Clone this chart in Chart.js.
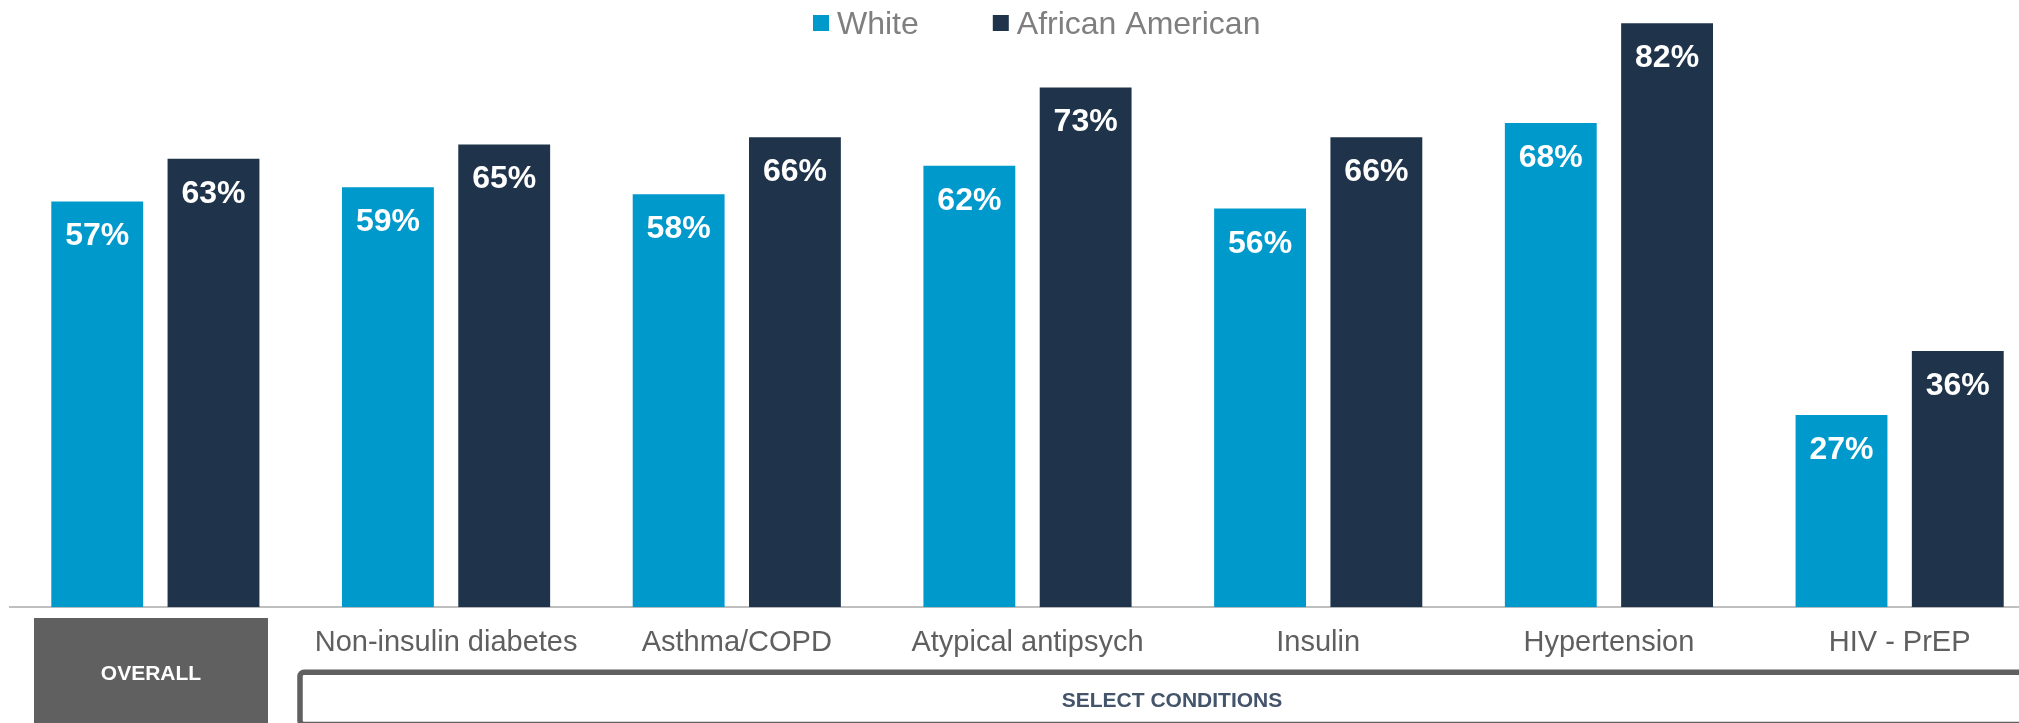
<!DOCTYPE html>
<html>
<head>
<meta charset="utf-8">
<script src="https://cdn.jsdelivr.net/npm/chart.js@4.4.1/dist/chart.umd.min.js"></script>
<style>
  html, body { margin: 0; padding: 0; background: #fff; overflow: hidden; }
  canvas { display: block; }
</style>
</head>
<body>
<canvas id="fillChart" width="2055" height="723"></canvas>
<script>
/// === DATA === ///
const conditions = ['OVERALL', 'Non-insulin diabetes', 'Asthma/COPD', 'Atypical antipsych', 'Insulin', 'Hypertension', 'HIV - PrEP'];
const whiteRates = [57, 59, 58, 62, 56, 68, 27];
const africanAmericanRates = [63, 65, 66, 73, 66, 82, 36];
const groupTitle = 'SELECT CONDITIONS';

const FONT = "'Liberation Sans', Arial, sans-serif";
const BOX_GRAY = '#606060';

// white % labels just inside the top of each bar
const barLabels = {
  id: 'barLabels',
  afterDatasetsDraw(chart) {
    const ctx = chart.ctx;
    ctx.save();
    ctx.font = 'bold 32px ' + FONT;
    ctx.fillStyle = '#ffffff';
    ctx.textAlign = 'center';
    ctx.textBaseline = 'alphabetic';
    chart.data.datasets.forEach((ds, i) => {
      chart.getDatasetMeta(i).data.forEach((bar, j) => {
        ctx.fillText(ds.data[j] + '%', bar.x, bar.y + 44);
      });
    });
    ctx.restore();
  },
};

// legend drawn inside the plot, above the bars
const topLegend = {
  id: 'topLegend',
  afterDraw(chart) {
    const ctx = chart.ctx;
    const ca = chart.chartArea;
    ctx.save();
    ctx.font = '32px ' + FONT;
    ctx.textBaseline = 'alphabetic';
    let x = ca.left + 803;
    chart.data.datasets.forEach((ds) => {
      ctx.fillStyle = ds.backgroundColor;
      ctx.fillRect(x, 15, 16, 16);
      ctx.fillStyle = '#7f7f7f';
      ctx.fillText(ds.label, x + 24, 34);
      x += 24 + ctx.measureText(ds.label).width + 74;
    });
    ctx.restore();
  },
};

// the OVERALL tag and the bracket box under the condition labels
const groupBoxes = {
  id: 'groupBoxes',
  afterDraw(chart) {
    const ctx = chart.ctx;
    const ca = chart.chartArea;
    const h = chart.height;
    ctx.save();

    ctx.fillStyle = BOX_GRAY;
    ctx.fillRect(ca.left + 24, 618, 234, h - 618);
    ctx.fillStyle = '#ffffff';
    ctx.font = 'bold 21px ' + FONT;
    ctx.textAlign = 'center';
    ctx.textBaseline = 'alphabetic';
    ctx.fillText(conditions[0], ca.left + 141, 680);

    ctx.strokeStyle = BOX_GRAY;
    ctx.lineWidth = 5.5;
    ctx.beginPath();
    ctx.roundRect(ca.left + 290, 672.3, 2100, 52.2, 4);
    ctx.stroke();
    ctx.fillStyle = '#44546a';
    ctx.font = 'bold 21px ' + FONT;
    ctx.fillText(groupTitle, ca.left + 1162, 707);

    ctx.restore();
  },
};

new Chart(document.getElementById('fillChart'), {
  type: 'bar',
  data: {
    labels: conditions,
    datasets: [
      {
        label: 'White',
        data: whiteRates,
        backgroundColor: '#0099cc',
      },
      {
        label: 'African American',
        data: africanAmericanRates,
        backgroundColor: '#1f344b',
      },
    ],
  },
  options: {
    responsive: false,
    animation: false,
    barPercentage: 0.79,
    categoryPercentage: 0.8,
    layout: { padding: { left: 10, right: 10, top: 2, bottom: 0 } },
    plugins: {
      legend: { display: false },
      tooltip: { enabled: false },
    },
    scales: {
      x: {
        grid: { display: false, drawTicks: false },
        border: { display: true, color: '#bfbfbf', width: 2 },
        ticks: {
          padding: 18,
          color: '#5f5f5f',
          font: { family: FONT, size: 29 },
          maxRotation: 0,
          autoSkip: false,
          callback: (val, i) => (i === 0 ? '' : conditions[i]),
        },
        afterFit(scale) {
          scale.height = 115.7;
        },
      },
      y: {
        display: false,
        min: 0,
        max: 85,
      },
    },
  },
  plugins: [barLabels, topLegend, groupBoxes],
});
</script>
</body>
</html>
